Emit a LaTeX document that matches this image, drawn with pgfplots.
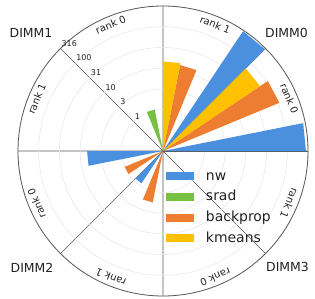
\documentclass[border=0pt]{standalone}
\usepackage{pgfplots}
\pgfplotsset{compat=1.18}
\usepgfplotslibrary{polar}
\usepackage{fontspec}
\setmainfont{DejaVu Sans}
\definecolor{cnw}{RGB}{74,144,222}
\definecolor{csrad}{RGB}{120,192,68}
\definecolor{cbp}{RGB}{237,125,49}
\definecolor{ckm}{RGB}{255,192,0}
\definecolor{ctxt}{RGB}{34,34,34}
\pgfplotsset{
  pbar/.style={draw=none, fill=#1, forget plot, y filter/.expression={ln(y)/ln(10)+1}},
}
\tikzset{
  rtick/.style={anchor=south west, inner sep=1bp, yshift=1bp, font=\fontsize{8}{9}\selectfont, text=ctxt},
  rlab/.style={rotate=#1, font=\fontsize{10}{11}\selectfont, text=ctxt, inner sep=0pt},
}
\begin{document}
\begin{tikzpicture}
\path[use as bounding box] (-163bp,-148bp) rectangle (152bp,151bp);
\begin{polaraxis}[
  at={(0,0)}, anchor=origin,
  scale only axis, width=290bp, height=290bp,
  xmin=0, xmax=360, ymin=0, ymax=3.5,
  xtick={0,45,...,315}, xticklabels={},
  ytick={1,1.5,2,2.5,3,3.5}, yticklabels={},
  xmajorgrids, ymajorgrids,
  x grid style={black!65, line width=0.7bp},
  y grid style={black!9, line width=0.6bp},
  axis line style={black!65, line width=0.8bp},
  major tick length=0pt,
  clip=false,
  legend image code/.code={\fill[#1, draw=none] (0bp,-4bp) rectangle (28bp,4bp);},
  legend cell align=left,
  legend style={at={(axis description cs:0.5,0.5)}, anchor=north west,
    xshift=3bp, yshift=-17bp, draw=none, fill=none,
    inner sep=0pt, outer sep=0pt,
    font=\fontsize{14}{16}\selectfont, text=ctxt,
    row sep=4.2bp,
    nodes={inner sep=2bp, text height=10bp, text depth=2.5bp},
    /tikz/every odd column/.append style={column sep=10bp}},
]
% nw
\addplot[pbar=cnw] coordinates {(0,0.1) (0,282) (11.25,282) (0,0.1)};
\addplot[pbar=cnw] coordinates {(45,0.1) (45,300) (56.25,300) (45,0.1)};
\addplot[pbar=cnw] coordinates {(180,0.1) (180,6.8) (191.25,6.8) (180,0.1)};
\addplot[pbar=cnw] coordinates {(225,0.1) (225,0.87) (236.25,0.87) (225,0.1)};
% srad
\addplot[pbar=csrad] coordinates {(101.25,0.1) (101.25,1.05) (112.5,1.05) (101.25,0.1)};
% backprop
\addplot[pbar=cbp] coordinates {(22.5,0.1) (22.5,110) (33.75,110) (22.5,0.1)};
\addplot[pbar=cbp] coordinates {(67.5,0.1) (67.5,13) (78.75,13) (67.5,0.1)};
\addplot[pbar=cbp] coordinates {(202.5,0.1) (202.5,1.0) (213.75,1.0) (202.5,0.1)};
\addplot[pbar=cbp] coordinates {(247.5,0.1) (247.5,1.85) (258.75,1.85) (247.5,0.1)};
% kmeans
\addplot[pbar=ckm] coordinates {(33.75,0.1) (33.75,66) (45,66) (33.75,0.1)};
\addplot[pbar=ckm] coordinates {(78.75,0.1) (78.75,14.5) (90,14.5) (78.75,0.1)};
% legend
\addlegendimage{fill=cnw}\addlegendentry{nw}
\addlegendimage{fill=csrad}\addlegendentry{srad}
\addlegendimage{fill=cbp}\addlegendentry{backprop}
\addlegendimage{fill=ckm}\addlegendentry{kmeans}
% radial tick labels
\node[rtick] at (axis cs:135,1) {1};
\node[rtick] at (axis cs:135,1.5) {3};
\node[rtick] at (axis cs:135,2) {10};
\node[rtick] at (axis cs:135,2.5) {31};
\node[rtick] at (axis cs:135,3) {100};
\node[rtick] at (axis cs:135,3.5) {316};
% rank labels
\node[rlab=-67.5] at (axis cs:22.5,3.3) {rank 0};
\node[rlab=-22.5] at (axis cs:67.5,3.3) {rank 1};
\node[rlab=22.5] at (axis cs:112.5,3.3) {rank 0};
\node[rlab=67.5] at (axis cs:157.5,3.3) {rank 1};
\node[rlab=112.5] at (axis cs:202.5,3.3) {rank 0};
\node[rlab=157.5] at (axis cs:247.5,3.3) {rank 1};
\node[rlab=202.5] at (axis cs:292.5,3.3) {rank 0};
\node[rlab=247.5] at (axis cs:337.5,3.3) {rank 1};
\end{polaraxis}
\begin{scope}[every node/.style={font=\fontsize{12.5}{14}\selectfont, text=ctxt}]
\node at (123.5bp,118bp) {DIMM0};
\node at (-132bp,118bp) {DIMM1};
\node at (-131bp,-117bp) {DIMM2};
\node at (124.5bp,-116bp) {DIMM3};
\end{scope}
\end{tikzpicture}
\end{document}
